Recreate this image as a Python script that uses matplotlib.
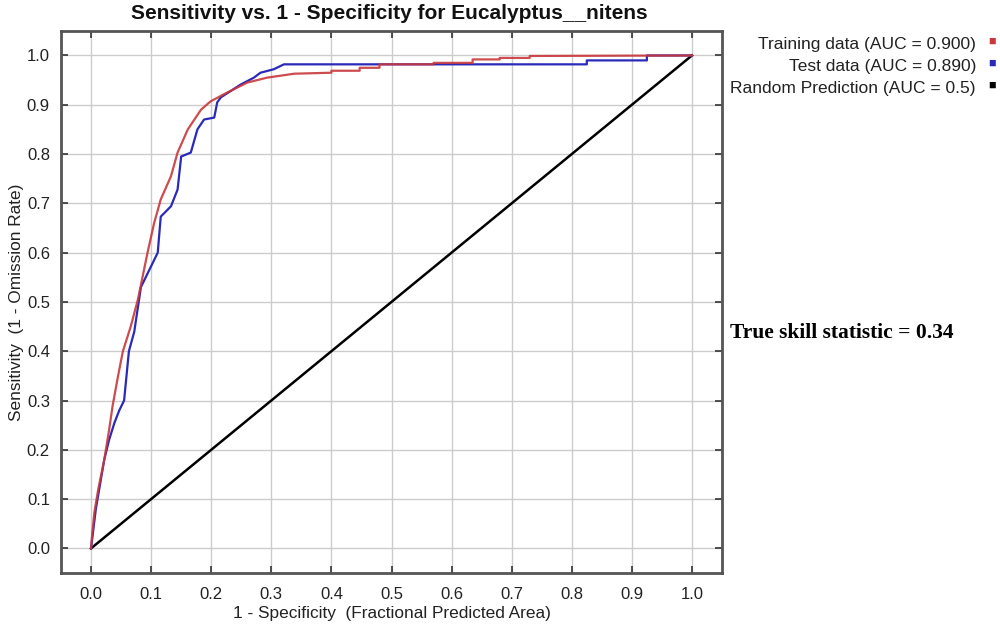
import numpy as np
import matplotlib
matplotlib.use("Agg")
import matplotlib.pyplot as plt

# Curvas ROC
train_x = [0.0, 0.002, 0.0055, 0.012, 0.022, 0.03, 0.036, 0.045, 0.053, 0.066, 0.078,
           0.094, 0.105, 0.116, 0.133, 0.144, 0.161, 0.183, 0.199, 0.227, 0.26, 0.293,
           0.338, 0.40, 0.40, 0.447, 0.447, 0.48, 0.48, 0.57, 0.57, 0.635, 0.635,
           0.68, 0.68, 0.73, 0.73, 1.0]
train_y = [0.0, 0.03, 0.073, 0.12, 0.18, 0.24, 0.29, 0.35, 0.40, 0.45, 0.505,
           0.60, 0.66, 0.708, 0.755, 0.803, 0.85, 0.89, 0.907, 0.925, 0.945, 0.955,
           0.963, 0.965, 0.969, 0.969, 0.975, 0.975, 0.982, 0.982, 0.985, 0.985, 0.992,
           0.992, 0.995, 0.995, 0.999, 1.0]

test_x = [0.0, 0.003, 0.008, 0.015, 0.022, 0.03, 0.039, 0.047, 0.055, 0.063, 0.072,
          0.075, 0.083, 0.097, 0.111, 0.116, 0.133, 0.144, 0.15, 0.166, 0.177, 0.188,
          0.205, 0.21, 0.216, 0.249, 0.271, 0.282, 0.304, 0.321, 0.825, 0.825, 0.925,
          0.925, 1.0]
test_y = [0.0, 0.03, 0.08, 0.13, 0.18, 0.22, 0.255, 0.28, 0.30, 0.40, 0.44,
          0.465, 0.53, 0.565, 0.60, 0.673, 0.694, 0.728, 0.795, 0.803, 0.85, 0.87,
          0.874, 0.905, 0.915, 0.941, 0.955, 0.965, 0.972, 0.982, 0.982, 0.990, 0.990,
          1.0, 1.0]

random_x = [0.0, 1.0]
random_y = [0.0, 1.0]

legend_labels = ["Training data (AUC = 0.900)", "Test data (AUC = 0.890)",
                 "Random Prediction (AUC = 0.5)"]
legend_colors = ["#c8383c", "#2a2ab8", "#000000"]

ticks = np.round(np.arange(0, 1.01, 0.1), 1)

plt.rcParams['font.family'] = ['Liberation Sans', 'DejaVu Sans']

fig = plt.figure(figsize=(10, 6.29), dpi=100)
ax = fig.add_axes([0.061, 0.089, 0.661, 0.862])

ax.plot(random_x, random_y, color="black", lw=1.8, zorder=2)
ax.plot(test_x, test_y, color=legend_colors[1], lw=1.6, zorder=3)
ax.plot(train_x, train_y, color=legend_colors[0], lw=1.6, alpha=0.9, zorder=4)

ax.set_xlim(-0.05, 1.05)
ax.set_ylim(-0.05, 1.05)
ax.set_xticks(ticks)
ax.set_yticks(ticks)
ax.set_xticklabels([f"{t:.1f}" for t in ticks])
ax.set_yticklabels([f"{t:.1f}" for t in ticks])
ax.grid(True, color="#cccccc", lw=1.0)
ax.set_axisbelow(True)
ax.tick_params(direction="in", length=5, width=1.2, color="#333333",
               top=True, right=True, labelsize=12, colors="#333333",
               labelcolor="#222222", pad=8)
ax.tick_params(axis="x", pad=10)
for s in ax.spines.values():
    s.set_color("#555555")
    s.set_linewidth(2)

ax.set_xlabel("1 - Specificity  (Fractional Predicted Area)", fontsize=12.4, color="#222222", labelpad=3)
ax.set_ylabel("Sensitivity  (1 - Omission Rate)", fontsize=12.4, color="#222222", labelpad=2)
fig.text(0.389, 0.979, "Sensitivity vs. 1 - Specificity for Eucalyptus__nitens",
         ha="center", va="center", fontsize=15, fontweight="bold", color="#111111")

# Legenda manual a direita
for i, (lab, col) in enumerate(zip(legend_labels, legend_colors)):
    yy = 1 - (44 + 22 * i) / 629
    fig.text(0.976, yy, lab, ha="right", va="center", fontsize=12.5, color="#222222")
    fig.text(0.992, yy + 0.003, "\u25a0", ha="center", va="center", fontsize=9, color=col)

fig.text(0.730, 1 - 333 / 629, "True skill statistic = 0.34", ha="left", va="center",
         fontsize=15.5, fontweight="bold", family=["Liberation Serif", "DejaVu Serif"])

fig.savefig("out.png", dpi=100)
